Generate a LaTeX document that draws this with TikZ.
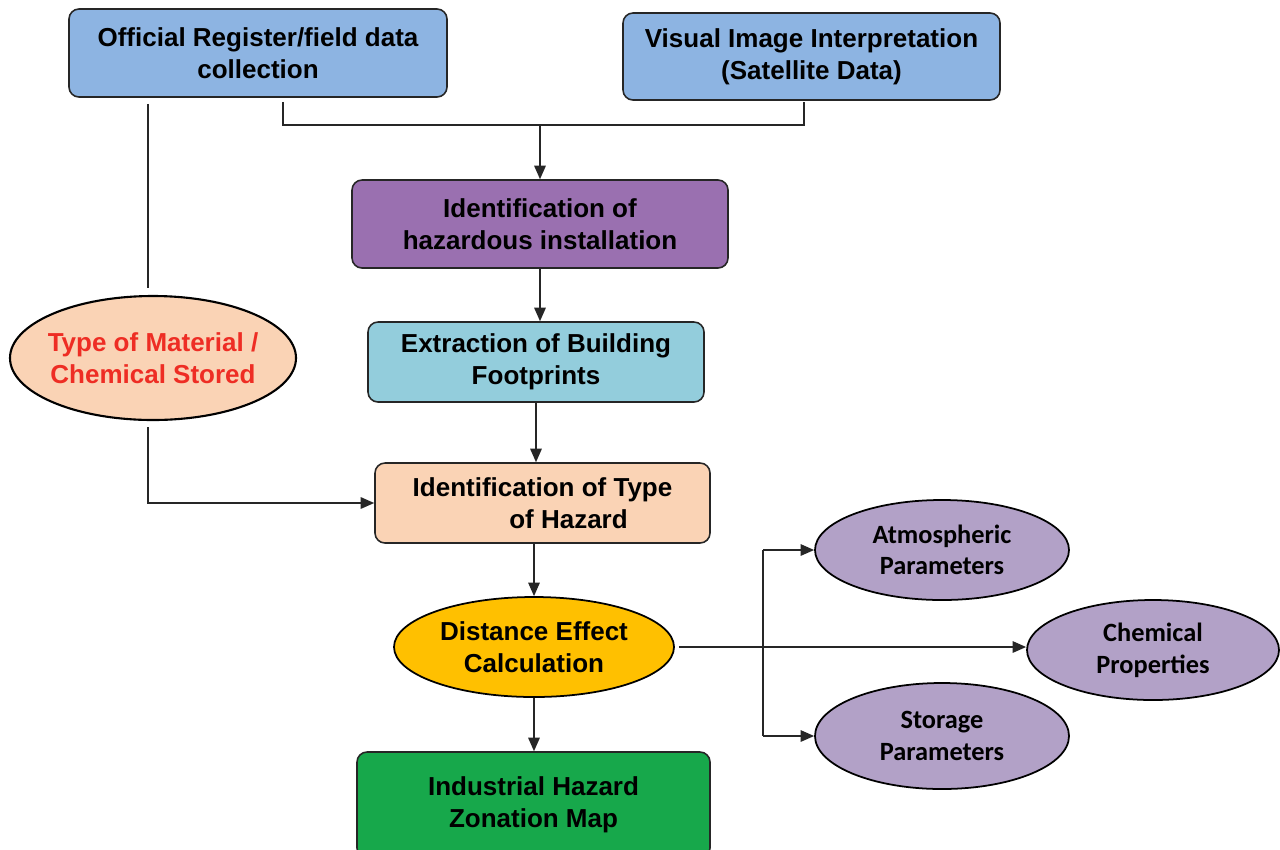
\documentclass[tikz,border=0pt]{standalone}
\usepackage{fontspec}
\setmainfont{Liberation Sans}
\newfontfamily\calfont{Carlito}
\usetikzlibrary{shapes.geometric,arrows.meta,calc}

\definecolor{boxblue}{HTML}{8DB4E2}
\definecolor{boxviolet}{HTML}{9A70B0}
\definecolor{boxteal}{HTML}{93CDDC}
\definecolor{boxpeach}{HTML}{FAD3B5}
\definecolor{boxorange}{HTML}{FFC000}
\definecolor{boxgreen}{HTML}{17A84B}
\definecolor{paramlilac}{HTML}{B2A1C7}
\definecolor{matred}{HTML}{EE2D24}
\definecolor{edge}{HTML}{262626}

\newlength{\pxu}
\setlength{\pxu}{0.02cm}

\tikzset{
  procbox/.style={draw=edge, line width=0.9pt, rounded corners=0.2cm,
    align=center, inner sep=0pt, font=\fontsize{14.8}{18}\selectfont\bfseries},
  oval/.style={ellipse, draw=black, line width=1.2pt, align=center, inner sep=0pt,
    font=\fontsize{14.8}{18}\selectfont\bfseries},
  param/.style={ellipse, draw=black, line width=1pt, fill=paramlilac, align=center,
    inner sep=0pt, minimum width=254\pxu, minimum height=100\pxu,
    font=\calfont\fontsize{15}{18}\selectfont\bfseries},
  link/.style={draw=edge, line width=0.8pt},
  arrow/.style={link, -{Triangle[length=2.7mm,width=2.3mm]}},
}

\begin{document}
\begin{tikzpicture}[x=0.02cm, y=-0.02cm]
\useasboundingbox (0,0) rectangle (1280,849);

% process boxes
\node[procbox, fill=boxblue, minimum width=378\pxu, minimum height=88\pxu] (reg) at (258,53)
  {Official Register/field data\\collection};
\node[procbox, fill=boxblue, minimum width=377\pxu, minimum height=87\pxu] (vis) at (811.5,56.5)
  {Visual Image Interpretation\\(Satellite Data)};
\node[procbox, fill=boxviolet, minimum width=376\pxu, minimum height=88\pxu] (inst) at (540,224)
  {Identification of\\hazardous installation};
\node[procbox, fill=boxteal, minimum width=336\pxu, minimum height=80\pxu] (foot) at (536,362)
  {Extraction of Building\\Footprints};
\node[procbox, fill=boxpeach, minimum width=335\pxu, minimum height=80\pxu] (type) at (542.5,503)
  {Identification of Type\\\hspace*{2em}of Hazard};
\node[procbox, fill=boxgreen, minimum width=353\pxu, minimum height=106\pxu] (map) at (533.5,805)
  {Industrial Hazard\\Zonation Map};

% ellipses
\node[oval, fill=boxpeach, text=matred, inner xsep=-0.12cm,
      minimum width=286\pxu, minimum height=124\pxu] (mat) at (153,358)
  {Type of Material /\\Chemical Stored};
\node[oval, fill=boxorange, line width=1pt, minimum width=280\pxu, minimum height=100\pxu] (dist) at (534,647)
  {Distance Effect\\Calculation};
\node[param] (atm) at (942,550) {Atmospheric\\Parameters};
\node[param, minimum width=252\pxu] (chem) at (1153,650) {Chemical\\Properties};
\node[param, minimum height=106\pxu] (sto) at (942,736) {Storage\\Parameters};

% guide coordinates for the elbow connectors
\coordinate (regtap) at (283,0);
\coordinate (vistap) at (804,0);
\coordinate (join) at (540,125);
\coordinate (leftrun) at (148,0);
\coordinate (branch) at (763,0);

% top merge into the hazardous installation box
\draw[link] ($(reg.south -| regtap)+(0,4)$) -- (regtap |- join) -- (vistap |- join) -- ($(vis.south -| vistap)+(0,1)$);
\draw[arrow] (join) -- (join |- inst.north);

% left branch through the material ellipse
\draw[link] ($(reg.south -| leftrun)+(0,6)$) -- ($(mat.north -| leftrun)+(0,-7)$);
\draw[arrow] ($(mat.south -| leftrun)+(0,6)$) -- (leftrun |- type.west) -- (type.west);

% main chain
\draw[arrow] (inst.south) -- (inst.south |- foot.north);
\draw[arrow] (foot.south) -- (foot.south |- type.north);
\draw[arrow] (dist.north |- type.south) -- (dist.north);
\draw[arrow] (dist.south) -- (dist.south |- map.north);

% parameters fan-out
\draw[arrow] ($(dist.east)+(4,0)$) -- (dist.east -| chem.west);
\draw[link] (branch |- atm.west) -- (branch |- sto.west);
\draw[arrow] (branch |- atm.west) -- (atm.west);
\draw[arrow] (branch |- sto.west) -- (sto.west);
\end{tikzpicture}
\end{document}
